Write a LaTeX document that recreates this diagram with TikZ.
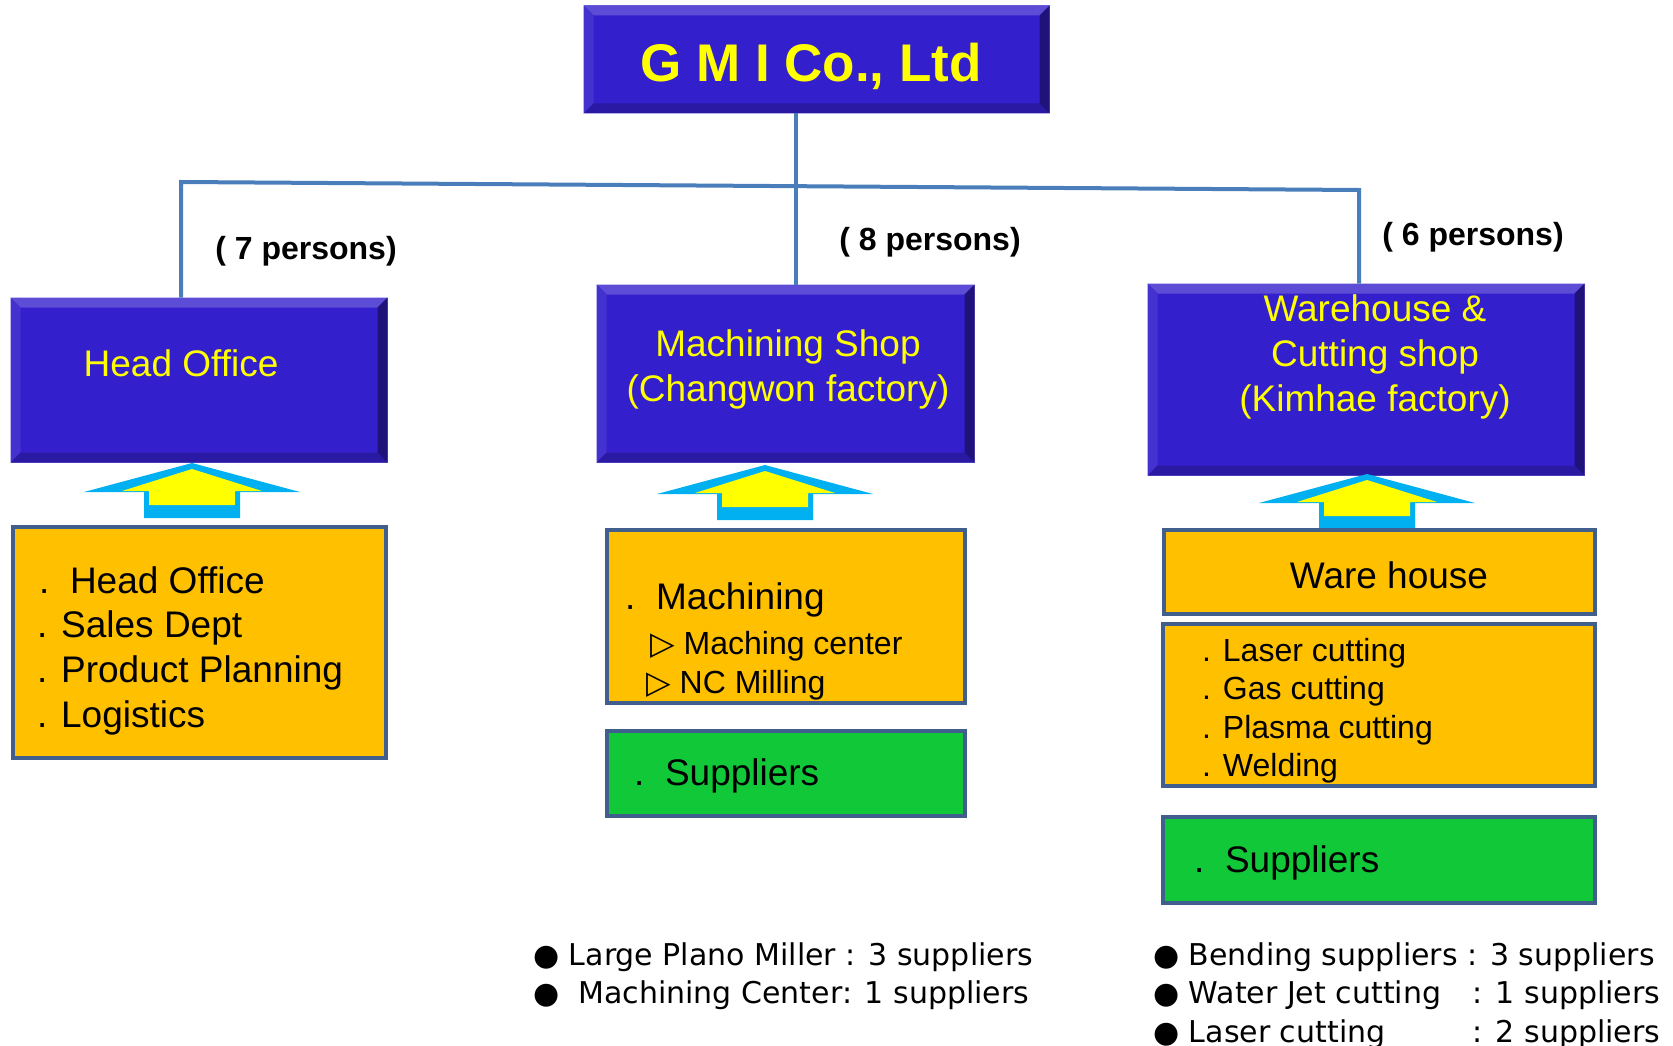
\documentclass[tikz,border=0pt]{standalone}
\usepackage{fontspec}
\setmainfont{Liberation Sans}
\newfontfamily\notefont{DejaVu Sans}
\newfontfamily\symfont{DejaVu Sans}

\definecolor{gmiblue}{RGB}{51,32,204}
\definecolor{gmiyellow}{RGB}{255,255,0}
\definecolor{gmiorange}{RGB}{255,192,0}
\definecolor{gmigreen}{RGB}{16,200,56}
\definecolor{gmiframe}{RGB}{65,95,140}
\definecolor{gmiline}{RGB}{74,126,187}
\definecolor{arrowblue}{RGB}{0,176,240}

\tikzset{
  bluebox/.style={rectangle, fill=gmiblue, draw=gmiblue!60!white, line width=1pt, inner sep=0pt},
  orangebox/.style={rectangle, fill=gmiorange, draw=gmiframe, line width=4pt, inner sep=0pt},
  greenbox/.style={orangebox, fill=gmigreen},
  title/.style={text=gmiyellow, align=center, inner sep=0pt, font=\fontsize{37}{45}\selectfont},
  listtext/.style={anchor=base west, inner sep=0pt, font=\fontsize{37}{45}\selectfont},
  subtext/.style={listtext, font=\fontsize{32}{38}\selectfont},
  persons/.style={inner sep=0pt, font=\bfseries\fontsize{32}{38}\selectfont},
  note/.style={anchor=base west, inner sep=0pt, font=\notefont\fontsize{30}{36}\selectfont},
  orgline/.style={draw=gmiline, line width=4pt},
}

\begin{document}
\begin{tikzpicture}[x=1pt,y=-1pt]
\useasboundingbox (0,0) rectangle (1673,1046);

% blue boxes
\node[bluebox, minimum width=465pt, minimum height=107pt] (gmi) at (816.5,59.5) {};
\node[bluebox, minimum width=376pt, minimum height=164pt] (ho) at (199,380) {};
\node[bluebox, minimum width=377pt, minimum height=177pt] (ms) at (785.5,373.5) {};
\node[bluebox, minimum width=436pt, minimum height=191pt] (wh) at (1366,379.5) {};

% bevel edges
\foreach \b in {gmi,ho,ms,wh} {
  \fill[gmiblue!80!white] (\b.north west) -- (\b.north east) -- ([xshift=-10pt,yshift=-10pt]\b.north east) -- ([xshift=10pt,yshift=-10pt]\b.north west) -- cycle;
  \fill[gmiblue!92!white] (\b.north west) -- ([xshift=10pt,yshift=-10pt]\b.north west) -- ([xshift=10pt,yshift=10pt]\b.south west) -- (\b.south west) -- cycle;
  \fill[gmiblue!80!black] (\b.south west) -- ([xshift=10pt,yshift=10pt]\b.south west) -- ([xshift=-10pt,yshift=10pt]\b.south east) -- (\b.south east) -- cycle;
  \fill[gmiblue!60!black] (\b.north east) -- ([xshift=-10pt,yshift=-10pt]\b.north east) -- ([xshift=-10pt,yshift=10pt]\b.south east) -- (\b.south east) -- cycle;
}

\node[title, font=\bfseries\fontsize{53}{60}\selectfont] (gmi-t) at (811,66) {G M I Co., Ltd};
\node[title] (ho-t) at (181,363) {Head Office};
\node[title] (ms-t) at (788,369) {Machining Shop\\(Changwon factory)};
\node[title] (wh-t) at (1375,357) {Warehouse \&\\Cutting shop\\(Kimhae factory)};

% org lines
\coordinate (jl) at (181,182);
\coordinate (jm) at (796,186);
\coordinate (jr) at (1359,190);
\draw[orgline] (gmi.south -| jm) -- (jm);
\draw[orgline] (ho.north -| jl) -- (jl) -- (jr) -- (wh.north -| jr);
\draw[orgline] (jm) -- (ms.north -| jm);

\node[persons] (p7) at (306,251) {( 7 persons)};
\node[persons] (p8) at (930,242) {( 8 persons)};
\node[persons] (p6) at (1473,237) {( 6 persons)};

% up arrows
\foreach \ax/\ay in {192/463, 765/465, 1367/474} {
  \fill[arrowblue] (\ax,\ay) -- ++(108,29) -- ++(-60,0) -- ++(0,26) -- ++(-96,0) -- ++(0,-26) -- ++(-60,0) -- cycle;
  \fill[gmiyellow] (\ax,\ay+6) -- ++(70,22) -- ++(-27,0) -- ++(0,14) -- ++(-86,0) -- ++(0,-14) -- ++(-27,0) -- cycle;
}

% lower boxes
\node[orangebox, minimum width=373pt, minimum height=231pt] (ho-list) at (199.5,642.5) {};
\node[orangebox, minimum width=358pt, minimum height=173pt] (ms-list) at (786,616.5) {};
\node[greenbox, minimum width=358pt, minimum height=85pt] (ms-sup) at (786,773.5) {};
\node[orangebox, minimum width=431pt, minimum height=84pt] (wh-box) at (1379.5,572) {};
\node[orangebox, minimum width=432pt, minimum height=162pt] (wh-list) at (1379,705) {};
\node[greenbox, minimum width=432pt, minimum height=86pt] (wh-sup) at (1379,860) {};

\node[listtext] (ho-1) at (39,593) {.\ \ Head Office};
\foreach \t [count=\i from 2] in {Sales Dept, Product Planning, Logistics}
  \node[listtext] (ho-\i) at (37,{548.3+44.7*\i}) {. \t};

\node[listtext] (ms-1) at (625,609) {.\ \ Machining};
\node[subtext] (ms-2) at (650,654) {{\symfont ▷}\ Maching center};
\node[subtext] (ms-3) at (646,693) {{\symfont ▷}\ NC Milling};
\node[listtext] (ms-sup-t) at (634,785) {.\ \ Suppliers};

\node[inner sep=0pt, font=\fontsize{37}{45}\selectfont] (wh-box-t) at (1389,575) {Ware house};
\foreach \t [count=\i] in {Laser cutting, Gas cutting, Plasma cutting, Welding}
  \node[subtext] (wh-\i) at (1202,{622.5+38.5*\i}) {. \t};
\node[listtext] (wh-sup-t) at (1194,872) {.\ \ Suppliers};

% supplier notes
\node[note] (n1) at (533,965) {● Large Plano Miller : 3 suppliers};
\node[note] (n2) at (533,1003) {●\ \ Machining Center: 1 suppliers};
\node[note] (n3) at (1153,965) {● Bending suppliers : 3 suppliers};
\node[note] (n4) at (1153,1003) {● \makebox[284pt][l]{Water Jet cutting}: 1 suppliers};
\node[note] (n5) at (1153,1042) {● \makebox[284pt][l]{Laser cutting}: 2 suppliers};
\end{tikzpicture}
\end{document}
